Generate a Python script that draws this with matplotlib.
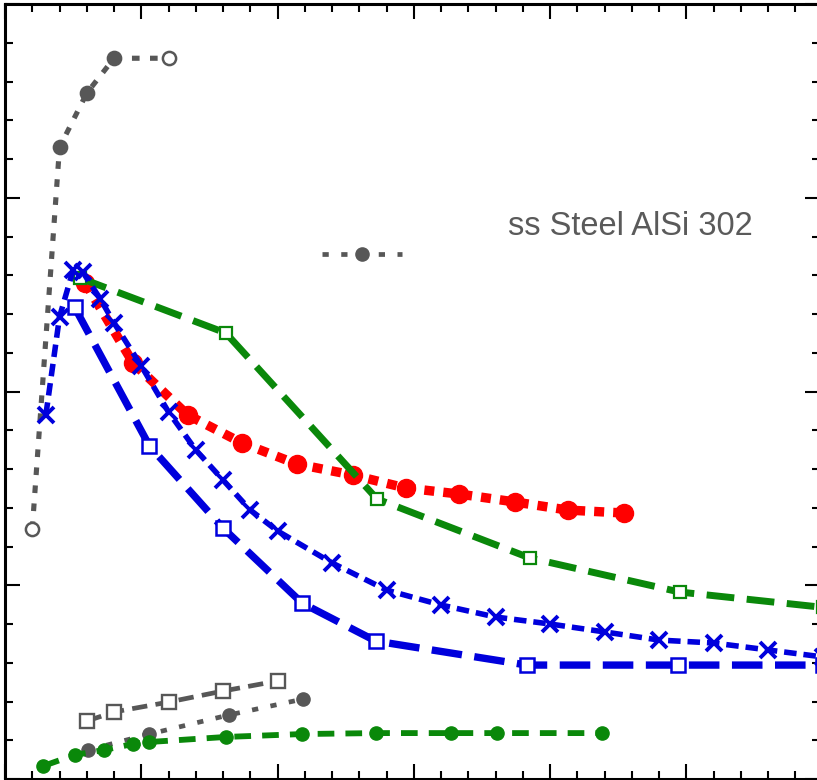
import numpy as np
import matplotlib.pyplot as plt
from matplotlib.lines import Line2D
from matplotlib.ticker import MultipleLocator

plt.rcParams['font.family'] = ['Liberation Sans', 'DejaVu Sans']
plt.rcParams['lines.scale_dashes'] = False

# data
gray_top_x = [0.2, 0.4, 0.6, 0.8, 1.2]
gray_top_y = [1.29, 3.26, 3.54, 3.72, 3.72]
gray_top_fill = ['none', 'full', 'full', 'full', 'none']

gray_circ_x = [0.61, 1.06, 1.64, 2.19]
gray_circ_y = [0.15, 0.232, 0.33, 0.413]

gray_sq_x = [0.6, 0.8, 1.2, 1.6, 2.0]
gray_sq_y = [0.299, 0.346, 0.397, 0.454, 0.506]

green_circ_x = [0.28, 0.51, 0.73, 0.94, 1.06, 1.62, 2.18, 2.72, 3.27, 3.61, 4.38]
green_circ_y = [0.067, 0.124, 0.15, 0.181, 0.191, 0.217, 0.232, 0.237, 0.237, 0.237, 0.237]

blue_x_x = [0.3, 0.4, 0.5, 0.57, 0.7, 0.8, 1.0, 1.2, 1.4, 1.6, 1.8, 2.0, 2.4,
            2.8, 3.2, 3.6, 4.0, 4.4, 4.8, 5.2, 5.6, 6.0]
blue_x_y = [1.88, 2.385, 2.627, 2.617, 2.477, 2.354, 2.132, 1.894, 1.698, 1.543,
            1.388, 1.28, 1.115, 0.975, 0.898, 0.836, 0.8, 0.759, 0.717, 0.702,
            0.666, 0.63]

red_x = [0.59, 0.94, 1.34, 1.74, 2.14, 2.55, 2.94, 3.33, 3.74, 4.13, 4.54]
red_y = [2.56, 2.147, 1.879, 1.734, 1.626, 1.569, 1.502, 1.471, 1.43, 1.388, 1.373]

blue_sq_x = [0.51, 1.06, 1.6, 2.18, 2.72, 3.83, 4.94, 6.0]
blue_sq_y = [2.436, 1.719, 1.295, 0.908, 0.712, 0.588, 0.588, 0.588]

green_sq_x = [0.55, 1.62, 2.73, 3.85, 4.95, 6.0]
green_sq_y = [2.586, 2.302, 1.445, 1.141, 0.965, 0.886]

label = "ss Steel AlSi 302"

gray = '#575757'
green = '#0a880a'
blue = '#0000dc'
red = '#ff0000'

fig = plt.figure(figsize=(8.17, 7.8), dpi=100)
ax = fig.add_axes([5 / 817, 1 / 780, 815 / 817, 775 / 780])

# gray top series, one marker fill per point
ax.plot(gray_top_x, gray_top_y, color=gray, lw=3.7, dashes=(5.5, 7.5), zorder=2)
for xx, yy, fs in zip(gray_top_x, gray_top_y, gray_top_fill):
    ax.plot(xx, yy, 'o', ms=9.5, mew=1.8, color=gray, mfc=gray if fs == 'full' else 'white',
            zorder=3)

ax.plot(gray_sq_x, gray_sq_y, color=gray, lw=3.4, dashes=(11, 6), marker='s', ms=9.5,
        mew=1.7, mfc='white', mec=gray, zorder=2)
ax.plot(gray_circ_x, gray_circ_y, color=gray, lw=3.4, dashes=(4.5, 9), marker='o', ms=9.5,
        mfc=gray, mec=gray, zorder=2)
ax.plot(green_circ_x, green_circ_y, color=green, lw=4.2, dashes=(12, 8), marker='o', ms=9.5,
        mfc=green, mec=green, zorder=3)

ax.plot(red_x, red_y, color=red, lw=6.8, dashes=(7.2, 6.5), marker='o', ms=13,
        mfc=red, mec=red, zorder=3)
ax.plot(green_sq_x, green_sq_y, color=green, lw=5.0, dashes=(20, 9), marker='s', ms=8.5,
        mew=1.6, mfc='white', mec=green, zorder=4)
ax.plot(blue_sq_x, blue_sq_y, color=blue, lw=5.3, dashes=(22, 9), marker='s', ms=9.5,
        mew=1.8, mfc='white', mec=blue, zorder=5)
ax.plot(blue_x_x, blue_x_y, color=blue, lw=4.0, dashes=(9, 5), marker='x', ms=11,
        mew=2.8, mec=blue, zorder=6)

# legend handle and its label
handle = Line2D([], [], color=gray, lw=3.4, dashes=(4.5, 9), marker='o', ms=9.5,
                mfc=gray, mec=gray)
ax.legend([handle], [''], loc='center left', bbox_to_anchor=(0.389, 0.675),
          frameon=False, borderpad=0, borderaxespad=0, handlelength=3.2,
          handletextpad=0, fontsize=18, numpoints=1)
ax.text(0.6167, 0.713, label, transform=ax.transAxes, fontsize=23.5, color='#5a5a5a',
        va='center', ha='left')

ax.set_xlim(0, 5.98)
ax.set_ylim(0, 4)
ax.xaxis.set_major_locator(MultipleLocator(1))
ax.xaxis.set_minor_locator(MultipleLocator(0.2))
ax.yaxis.set_major_locator(MultipleLocator(1))
ax.yaxis.set_minor_locator(MultipleLocator(0.2))
ax.tick_params(which='both', direction='in', top=True, right=True,
               labelbottom=False, labelleft=False, width=1.5)
ax.tick_params(which='major', length=10.5)
ax.tick_params(which='minor', length=6)
for s in ax.spines.values():
    s.set_linewidth(2.2)

fig.savefig('out.png', dpi=100)
